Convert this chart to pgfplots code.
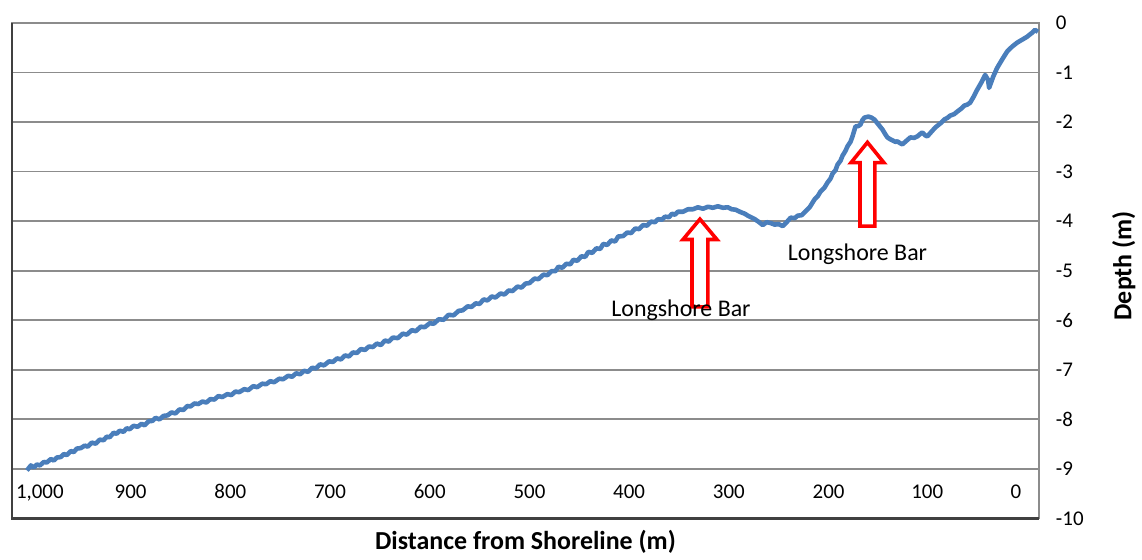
\documentclass[border=0pt]{standalone}
\usepackage{fontspec}
\setmainfont{Carlito}
\usepackage{pgfplots}
\pgfplotsset{compat=1.18}

\definecolor{profile}{RGB}{74,126,187}
\definecolor{gridgray}{RGB}{140,140,140}
\definecolor{framedark}{RGB}{64,64,64}

\begin{document}
\begin{tikzpicture}
\begin{axis}[
    scale only axis,
    width=515pt,
    height=248.5pt,
    x dir=reverse,
    xmin=-11, xmax=1019,
    ymin=-10, ymax=0,
    xtick={991,900,800,700,600,500,400,300,200,101,12},
    xticklabels={{1,000},900,800,700,600,500,400,300,200,100,0},
    ytick={-10,-9,-8,-7,-6,-5,-4,-3,-2,-1,0},
    yticklabels={-10,-9,-8,-7,-6,-5,-4,-3,-2,-1,0},
    major tick length=0pt,
    xticklabel style={font=\fontsize{10.5}{12}\selectfont, anchor=base, yshift=10pt},
    yticklabel pos=right,
    yticklabel style={font=\fontsize{10.5}{12}\selectfont, anchor=west, xshift=5pt},
    ymajorgrids=true,
    grid style={gridgray, line width=0.9pt},
    axis line style={gridgray, line width=0.9pt},
    xlabel={\bfseries Distance from Shoreline (m)},
    xlabel style={font=\fontsize{13}{15}\selectfont, at={(axis description cs:0.5,0)}, anchor=center, yshift=-11.5pt},
    ylabel={\bfseries Depth (m)},
    ylabel style={font=\fontsize{13}{15}\selectfont, at={(axis description cs:1.0825,0.51)}, anchor=center},
    clip=false,
]
\addplot[profile, line width=2.3pt, line join=round] coordinates {
(1004,-9.03) (1000,-8.93) (997,-8.97) (994,-8.91) (991,-8.93) (987,-8.86)
(984,-8.87) (980,-8.80) (977,-8.83) (974,-8.77) (970,-8.76) (967,-8.70)
(964,-8.72) (960,-8.64) (957,-8.66) (954,-8.59) (950,-8.58) (946,-8.53)
(943,-8.55) (939,-8.47) (935,-8.49) (931,-8.41) (927,-8.42) (924,-8.35)
(921,-8.36) (917,-8.27) (914,-8.29) (911,-8.23) (907,-8.25) (904,-8.18)
(901,-8.20) (897,-8.13) (893,-8.15) (889,-8.09) (886,-8.12) (882,-8.04)
(878,-8.03) (875,-7.97) (871,-8.00) (867,-7.93) (863,-7.92) (859,-7.86)
(855,-7.88) (851,-7.80) (847,-7.81) (843,-7.73) (840,-7.74) (836,-7.68)
(832,-7.69) (828,-7.64) (824,-7.66) (820,-7.59) (816,-7.60) (812,-7.53)
(808,-7.55) (803,-7.49) (799,-7.51) (795,-7.44) (791,-7.45) (786,-7.39)
(782,-7.41) (777,-7.33) (773,-7.35) (768,-7.28) (764,-7.29) (760,-7.23)
(756,-7.25) (751,-7.18) (747,-7.19) (742,-7.12) (738,-7.14) (734,-7.07)
(730,-7.09) (726,-7.02) (722,-7.04) (718,-6.96) (714,-6.97) (710,-6.89)
(706,-6.91) (701,-6.83) (697,-6.84) (693,-6.77) (689,-6.79) (685,-6.71)
(681,-6.73) (677,-6.65) (673,-6.66) (669,-6.58) (665,-6.60) (661,-6.53)
(657,-6.54) (653,-6.47) (649,-6.50) (645,-6.41) (641,-6.43) (637,-6.35)
(632,-6.36) (627,-6.27) (623,-6.29) (618,-6.20) (614,-6.22) (609,-6.13)
(605,-6.14) (600,-6.06) (596,-6.07) (591,-5.98) (586,-5.99) (581,-5.89)
(576,-5.90) (571,-5.81) (567,-5.80) (562,-5.72) (558,-5.73) (554,-5.66)
(550,-5.67) (546,-5.58) (542,-5.60) (538,-5.52) (534,-5.54) (529,-5.46)
(525,-5.48) (521,-5.40) (517,-5.41) (512,-5.32) (508,-5.34) (504,-5.26)
(500,-5.25) (495,-5.16) (491,-5.17) (486,-5.08) (482,-5.09) (478,-5.01)
(474,-5.01) (471,-4.92) (467,-4.94) (463,-4.86) (459,-4.87) (456,-4.78)
(452,-4.80) (448,-4.71) (444,-4.72) (441,-4.62) (437,-4.64) (433,-4.55)
(429,-4.56) (426,-4.46) (422,-4.48) (418,-4.39) (414,-4.41) (411,-4.31)
(406,-4.30) (402,-4.23) (398,-4.24) (394,-4.15) (390,-4.16) (386,-4.08)
(382,-4.09) (378,-4.01) (374,-4.02) (371,-3.96) (367,-3.97) (364,-3.91)
(360,-3.92) (357,-3.85) (354,-3.87) (351,-3.81) (346,-3.81) (341,-3.76)
(336,-3.76) (331,-3.72) (326,-3.75) (321,-3.71) (316,-3.73) (311,-3.70)
(306,-3.73) (301,-3.72) (297,-3.76) (293,-3.77) (288,-3.82) (284,-3.85)
(281,-3.89) (277,-3.93) (274,-3.96) (269,-4.03) (266,-4.08) (262,-4.02)
(258,-4.04) (254,-4.07) (250,-4.06) (246,-4.10) (242,-4.02) (238,-3.93)
(234,-3.94) (231,-3.89) (227,-3.88) (224,-3.82) (219,-3.72) (214,-3.56)
(211,-3.50) (208,-3.40) (204,-3.32) (201,-3.22) (198,-3.14) (196,-3.04)
(193,-2.97) (191,-2.86) (188,-2.78) (186,-2.68) (183,-2.58) (181,-2.49)
(178,-2.40) (176,-2.29) (173,-2.09) (170,-2.08) (168,-2.05) (166,-1.96)
(164,-1.91) (160,-1.89) (157,-1.91) (154,-1.95) (150,-2.05) (146,-2.15)
(143,-2.25) (141,-2.31) (138,-2.35) (136,-2.37) (133,-2.40) (131,-2.39)
(128,-2.43) (126,-2.45) (122,-2.38) (118,-2.31) (114,-2.32) (111,-2.29)
(108,-2.24) (106,-2.21) (103,-2.27) (101,-2.29) (97,-2.20) (93,-2.11)
(88,-2.03) (84,-1.95) (81,-1.92) (78,-1.87) (74,-1.84) (71,-1.79)
(67,-1.73) (64,-1.67) (61,-1.65) (58,-1.61) (54,-1.47) (51,-1.35)
(47,-1.21) (43,-1.05) (40,-1.15) (39,-1.31) (35,-1.09) (31,-0.91)
(26,-0.74) (21,-0.58) (16,-0.48) (11,-0.40) (6,-0.34) (1,-0.28)
(-4,-0.20) (-7,-0.14) (-10,-0.18)
};
% annotation arrows
\draw[red, line width=1.8pt, fill=white, line join=miter]
  (axis cs:329,-3.96) -- (axis cs:346,-4.37) -- (axis cs:337,-4.37) -- (axis cs:337,-5.73)
  -- (axis cs:321,-5.73) -- (axis cs:321,-4.37) -- (axis cs:312,-4.37) -- cycle;
\draw[red, line width=1.8pt, fill=white, line join=miter]
  (axis cs:161,-2.41) -- (axis cs:177.5,-2.82) -- (axis cs:168.5,-2.82) -- (axis cs:168.5,-4.10)
  -- (axis cs:153.5,-4.10) -- (axis cs:153.5,-2.82) -- (axis cs:144.5,-2.82) -- cycle;
\node[font=\fontsize{12}{14}\selectfont] at (axis cs:348,-5.79) {Longshore Bar};
\node[font=\fontsize{12}{14}\selectfont] at (axis cs:171,-4.67) {Longshore Bar};
% darker left and bottom frame edges
\draw[framedark, line width=1.3pt] (axis description cs:0,1) -- (axis description cs:0,0) -- (axis description cs:1,0);
\coordinate (SW) at (axis description cs:0,0);
\end{axis}
\path (SW) ++(-6pt,-18.5pt) rectangle ++(571pt,278.5pt);
\end{tikzpicture}
\end{document}
